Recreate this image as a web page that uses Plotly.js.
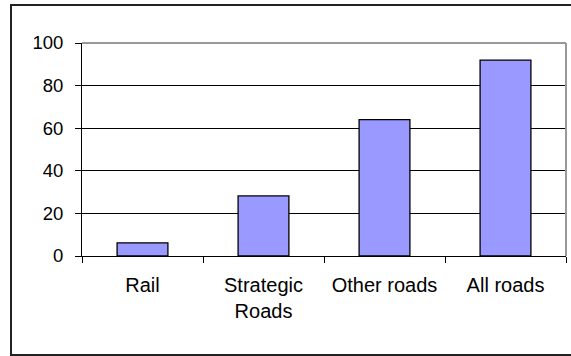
<!DOCTYPE html>
<html>
<head>
<meta charset="utf-8">
<script src="https://cdn.plot.ly/plotly-3.0.1.min.js"></script>
<style>html,body{margin:0;padding:0;background:#fff;}#chart{width:571px;height:356px;}</style>
</head>
<body>
<div id="chart"></div>
<script>
const categories = ["Rail", "Strategic<br>Roads", "Other roads", "All roads"];
const values = [6.2, 28.2, 64, 92];
const yTickValues = [0, 20, 40, 60, 80, 100];

const trace = {
  type: "bar",
  x: categories,
  y: values,
  width: 0.42,
  marker: {color: "#9999FF", line: {color: "#000000", width: 1.3}},
  hoverinfo: "none"
};

const layout = {
  width: 571,
  height: 356,
  margin: {l: 82, r: 5, t: 43, b: 100},
  paper_bgcolor: "#ffffff",
  plot_bgcolor: "#ffffff",
  showlegend: false,
  font: {family: "Arial, 'Liberation Sans', sans-serif", size: 18, color: "#000"},
  xaxis: {
    type: "category",
    tickson: "boundaries",
    ticks: "outside",
    ticklen: 6,
    tickcolor: "#000",
    showline: true,
    linecolor: "#000",
    linewidth: 1,
    showgrid: false,
    ticklabelstandoff: 11,
    tickfont: {size: 20, color: "#000"},
    fixedrange: true
  },
  yaxis: {
    range: [0, 100],
    tickvals: yTickValues,
    ticktext: yTickValues.map(String),
    ticks: "outside",
    ticklen: 6,
    tickcolor: "#000",
    showline: true,
    linecolor: "#000",
    linewidth: 1,
    showgrid: true,
    gridcolor: "#000",
    gridwidth: 1,
    zeroline: false,
    ticklabelstandoff: 8,
    tickfont: {size: 18.5, color: "#000"},
    fixedrange: true
  },
  shapes: [
    {type: "line", xref: "paper", yref: "paper", x0: 0, x1: 1, y0: 1, y1: 1,
     line: {color: "#999", width: 2}, layer: "above"},
    {type: "line", xref: "paper", yref: "paper", x0: 1, x1: 1, y0: 0, y1: 1,
     line: {color: "#999", width: 2}, layer: "above"},
    {type: "rect", xref: "paper", yref: "paper", x0: -0.1467, x1: 1.03, y0: -0.4648, y1: 1.178,
     line: {color: "#222", width: 2}, layer: "above"}
  ]
};

Plotly.newPlot("chart", [trace], layout, {staticPlot: true, displayModeBar: false});
</script>
</body>
</html>
